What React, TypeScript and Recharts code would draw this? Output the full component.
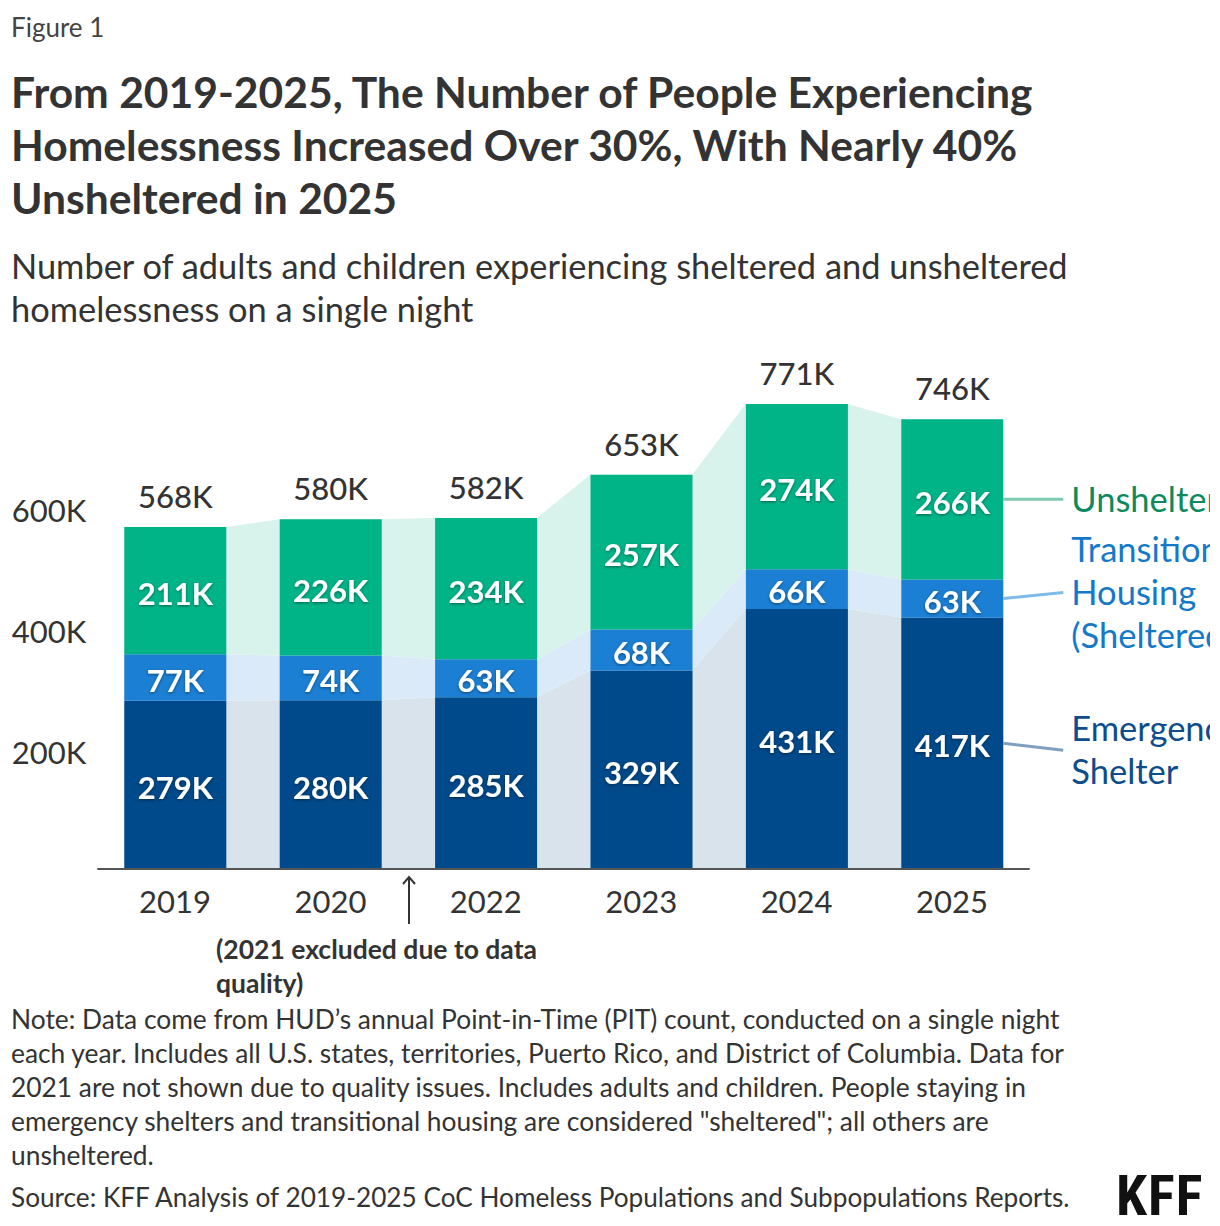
import { AreaChart, Area, BarChart, Bar, XAxis, YAxis, LabelList } from "recharts";

const years = ["2019", "2020", "2022", "2023", "2024", "2025"];
const emergency = [279, 280, 285, 329, 431, 417];
const transitional = [77, 74, 63, 68, 66, 63];
const unsheltered = [211, 226, 234, 257, 274, 266];
const totals = [568, 580, 582, 653, 771, 746];
const yTicks = [200, 400, 600];

const FONT = "Lato, 'Noto Sans', sans-serif";
const TEXT = "#333333";

const COLORS = {
  emergency: "#00498a",
  transitional: "#1b7fd4",
  unsheltered: "#00b488",
};
const SOFT = {
  emergency: "#d9e3ec",
  transitional: "#dbeaf8",
  unsheltered: "#d8f3ec",
};

const W = 1202;
const H = 670;
const MARGIN = { top: 56.6, right: 180.3, bottom: 91, left: 9.3 };
const HALF_BAR = 0.328; // bar half width, in category units

const barData = years.map((year, i) => ({
  year,
  emergency: emergency[i],
  transitional: transitional[i],
  unsheltered: unsheltered[i],
  total: totals[i],
}));

// two points per year, at each bar's edges, so the soft bands join the bars
const bandData = years.flatMap((_, i) =>
  [i - HALF_BAR, i + HALF_BAR].map((x) => ({
    x,
    emergency: emergency[i],
    transitional: transitional[i],
    unsheltered: unsheltered[i],
  }))
);

const sideLabels: Record<string, { lines: string[]; color: string; line: string; shift: number }> = {
  unsheltered: { lines: ["Unsheltered"], color: "#0c8a5e", line: "#7fcaae", shift: 0 },
  transitional: {
    lines: ["Transitional", "Housing", "(Sheltered)"],
    color: "#1479c9",
    line: "#7dbbe9",
    shift: -6,
  },
  emergency: { lines: ["Emergency", "Shelter"], color: "#0e4d8c", line: "#7f9fbf", shift: 7 },
};

const innerLabel = (props: any) => {
  const { x, y, width, height, value } = props;
  return (
    <text
      x={x + width / 2}
      y={y + height / 2 + 3}
      dy="0.36em"
      textAnchor="middle"
      fill="#ffffff"
      fontFamily={FONT}
      fontWeight={700}
      fontSize={31}
      filter="url(#labelShadow)"
    >
      {value}K
    </text>
  );
};

const totalLabel = (props: any) => {
  const { x, y, width, value } = props;
  return (
    <text
      x={x + width / 2}
      y={y - 19}
      textAnchor="middle"
      fill={TEXT}
      fontFamily={FONT}
      fontWeight={500}
      fontSize={31}
    >
      {value}K
    </text>
  );
};

const yTick = (props: any) => {
  const { x, y, payload } = props;
  return (
    <text x={x} y={y + 4} dy="0.36em" textAnchor="end" fill={TEXT} fontFamily={FONT} fontSize={31}>
      {payload.value}K
    </text>
  );
};

const sideLabel = (key: string) => (props: any) => {
  const { x, y, width, height, index } = props;
  if (index !== years.length - 1) return null;
  const cfg = sideLabels[key];
  const x0 = x + width;
  const y0 = y + height / 2;
  const y1 = y0 + cfg.shift;
  const lh = 43;
  const top = y1 - ((cfg.lines.length - 1) * lh) / 2;
  return (
    <g>
      <line x1={x0} y1={y0} x2={x0 + 60} y2={y1} stroke={cfg.line} strokeWidth={3} />
      {cfg.lines.map((t, k) => (
        <text
          key={t}
          x={x0 + 68}
          y={top + k * lh}
          dy="0.36em"
          fill={cfg.color}
          fontFamily={FONT}
          fontSize={34.5}
        >
          {t}
        </text>
      ))}
    </g>
  );
};

const abs = (top: number, left: number, extra: any = {}) => ({
  position: "absolute" as const,
  top,
  left,
  whiteSpace: "nowrap" as const,
  fontFamily: FONT,
  color: TEXT,
  ...extra,
});

export default function App() {
  const noteLines = [
    "Note: Data come from HUD\u2019s annual Point-in-Time (PIT) count, conducted on a single night",
    "each year. Includes all U.S. states, territories, Puerto Rico, and District of Columbia. Data for",
    "2021 are not shown due to quality issues. Includes adults and children. People staying in",
    'emergency shelters and transitional housing are considered "sheltered"; all others are',
    "unsheltered.",
  ];

  return (
    <div style={{ position: "relative", width: 1204, height: 1210, background: "#fff" }}>
      <svg width={0} height={0} style={{ position: "absolute" }}>
        <defs>
          <filter id="labelShadow" x="-20%" y="-40%" width="140%" height="180%">
            <feDropShadow dx="0" dy="1" stdDeviation="1.5" floodColor="#000" floodOpacity="0.45" />
          </filter>
        </defs>
      </svg>

      <div style={abs(4, 3, { fontSize: 26, lineHeight: "30px", color: "#444" })}>Figure 1</div>

      <div style={abs(57, 3, { fontSize: 42.6, lineHeight: "53px", fontWeight: 700 })}>
        <div>From 2019-2025, The Number of People Experiencing</div>
        <div>Homelessness Increased Over 30%, With Nearly 40%</div>
        <div>Unsheltered in 2025</div>
      </div>

      <div style={abs(235.5, 3, { fontSize: 34.4, lineHeight: "43px" })}>
        <div>Number of adults and children experiencing sheltered and unsheltered</div>
        <div>homelessness on a single night</div>
      </div>

      <div style={{ position: "absolute", top: 322, left: 0, width: W, height: H, overflow: "hidden" }}>
        <div style={{ position: "absolute", top: 0, left: 0 }}>
          <AreaChart width={W} height={H} data={bandData} margin={MARGIN}>
            <XAxis
              type="number"
              dataKey="x"
              domain={[-0.5, years.length - 0.5]}
              allowDataOverflow
              tick={false}
              axisLine={false}
              tickLine={false}
              height={40}
            />
            <YAxis domain={[0, 800]} width={80} tick={false} axisLine={false} tickLine={false} />
            <Area type="linear" dataKey="emergency" stackId="s" stroke="none" fill={SOFT.emergency} fillOpacity={1} isAnimationActive={false} />
            <Area type="linear" dataKey="transitional" stackId="s" stroke="none" fill={SOFT.transitional} fillOpacity={1} isAnimationActive={false} />
            <Area type="linear" dataKey="unsheltered" stackId="s" stroke="none" fill={SOFT.unsheltered} fillOpacity={1} isAnimationActive={false} />
          </AreaChart>
        </div>
        <div style={{ position: "absolute", top: 0, left: 0 }}>
          <BarChart width={W} height={H} data={barData} margin={MARGIN}>
            <XAxis
              dataKey="year"
              height={40}
              tickLine={false}
              tickSize={0}
              tickMargin={22}
              axisLine={{ stroke: "#555", strokeWidth: 2 }}
              tick={{ fill: TEXT, fontSize: 31, fontFamily: FONT }}
            />
            <YAxis
              domain={[0, 800]}
              ticks={yTicks}
              width={80}
              axisLine={false}
              tickLine={false}
              tickSize={0}
              tickMargin={11}
              tick={yTick}
            />
            <Bar dataKey="emergency" stackId="s" fill={COLORS.emergency} barSize={102} isAnimationActive={false}>
              <LabelList dataKey="emergency" content={innerLabel} />
              <LabelList dataKey="emergency" content={sideLabel("emergency")} />
            </Bar>
            <Bar dataKey="transitional" stackId="s" fill={COLORS.transitional} barSize={102} isAnimationActive={false}>
              <LabelList dataKey="transitional" content={innerLabel} />
              <LabelList dataKey="transitional" content={sideLabel("transitional")} />
            </Bar>
            <Bar dataKey="unsheltered" stackId="s" fill={COLORS.unsheltered} barSize={102} isAnimationActive={false}>
              <LabelList dataKey="unsheltered" content={innerLabel} />
              <LabelList dataKey="unsheltered" content={sideLabel("unsheltered")} />
              <LabelList dataKey="total" content={totalLabel} />
            </Bar>
          </BarChart>
        </div>
      </div>

      <svg width={20} height={54} style={{ position: "absolute", top: 866, left: 391 }}>
        <line x1={10} y1={3} x2={10} y2={50} stroke={TEXT} strokeWidth={2} />
        <polyline points="4,10 10,3 16,10" fill="none" stroke={TEXT} strokeWidth={2} />
      </svg>

      <div style={abs(924, 208, { fontSize: 26.5, lineHeight: "34px", fontWeight: 700 })}>
        <div>(2021 excluded due to data</div>
        <div>quality)</div>
      </div>

      <div style={abs(994, 3, { fontSize: 26.35, lineHeight: "34px" })}>
        {noteLines.map((l) => (
          <div key={l}>{l}</div>
        ))}
      </div>

      <div style={abs(1172, 3, { fontSize: 26.2, lineHeight: "34px" })}>
        Source: KFF Analysis of 2019-2025 CoC Homeless Populations and Subpopulations Reports.
      </div>

      <div
        style={abs(1163, 1108, {
          fontSize: 56,
          lineHeight: "50px",
          fontWeight: 700,
          color: "#111",
          fontFamily: "'Liberation Sans Narrow', 'Roboto Condensed', sans-serif",
          letterSpacing: 1,
        })}
      >
        KFF
      </div>
    </div>
  );
}
